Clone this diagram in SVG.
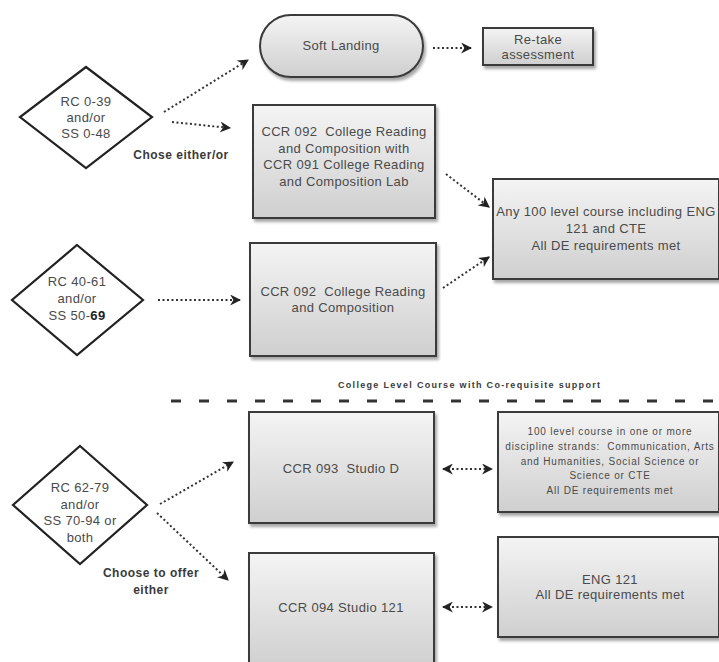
<svg xmlns="http://www.w3.org/2000/svg" width="719" height="662" viewBox="0 0 719 662">
<defs>
<linearGradient id="g" x1="0" y1="0" x2="0" y2="1">
<stop offset="0" stop-color="#f4f4f4"/>
<stop offset="1" stop-color="#cfcfcf"/>
</linearGradient>
<filter id="sh" x="-10%" y="-10%" width="130%" height="130%">
<feGaussianBlur in="SourceAlpha" stdDeviation="1.5"/>
<feOffset dx="2" dy="3" result="b"/>
<feComponentTransfer><feFuncA type="linear" slope="0.35"/></feComponentTransfer>
<feMerge><feMergeNode/><feMergeNode in="SourceGraphic"/></feMerge>
</filter>
<marker id="ah" viewBox="0 0 10 10" refX="9" refY="5" markerWidth="5.5" markerHeight="5.5" orient="auto-start-reverse" markerUnits="strokeWidth">
<path d="M0,0 L10,5 L0,10 L3,5 Z" fill="#222"/>
</marker>
</defs>
<style>
.box{fill:url(#g);stroke:#3a3a3a;stroke-width:2;filter:url(#sh)}
.dia{fill:#fff;stroke:#222;stroke-width:2.2}
.t{font-family:"Liberation Sans",Arial,sans-serif;font-size:13px;letter-spacing:0.35px;fill:#4a4a4a;text-anchor:middle}
.s{font-size:10px;letter-spacing:0.8px}
.b{font-family:"Liberation Sans",Arial,sans-serif;font-weight:bold;font-size:12px;letter-spacing:0.5px;fill:#3a3a3a;text-anchor:middle}
.c{fill:none;stroke:#333;stroke-width:2;stroke-dasharray:2 2.5;marker-end:url(#ah)}
.c2{marker-start:url(#ah)}
</style>
<rect width="719" height="662" fill="#fff"/>

<g id="n_d1">
<polygon class="dia" points="86,67 152,117 86,168 20,117"/>
<text class="t" x="86" y="106">RC 0-39</text>
<text class="t" x="86" y="122">and/or</text>
<text class="t" x="86" y="138">SS 0-48</text>
</g>
<g id="n_soft">
<rect class="box" x="260" y="15" width="163" height="62" rx="31"/>
<text class="t" x="341" y="50">Soft Landing</text>
</g>
<g id="n_retake">
<rect class="box" x="483" y="28" width="110" height="37"/>
<text class="t" x="538" y="44">Re-take</text>
<text class="t" x="538" y="59">assessment</text>
</g>
<g id="n_ccr092a">
<rect class="box" x="253" y="105" width="182" height="113"/>
<text class="t" x="344" y="136" xml:space="preserve">CCR 092  College Reading</text>
<text class="t" x="344" y="153">and Composition with</text>
<text class="t" x="344" y="169">CCR 091 College Reading</text>
<text class="t" x="344" y="186">and Composition Lab</text>
</g>
<g id="n_any">
<rect class="box" x="493" y="179" width="226" height="100"/>
<text class="t" x="606" y="216">Any 100 level course including ENG</text>
<text class="t" x="606" y="233">121 and CTE</text>
<text class="t" x="606" y="250">All DE requirements met</text>
</g>
<g id="n_d2">
<polygon class="dia" points="77,245 143,300 77,355 12,300"/>
<text class="t" x="77" y="286">RC 40-61</text>
<text class="t" x="77" y="303">and/or</text>
<text class="t" x="77" y="320">SS 50-<tspan font-weight="bold" fill="#222">69</tspan></text>
</g>
<g id="n_ccr092b">
<rect class="box" x="250" y="243" width="186" height="113"/>
<text class="t" x="343" y="296" xml:space="preserve">CCR 092  College Reading</text>
<text class="t" x="343" y="312">and Composition</text>
</g>

<g id="n_divider">
<text class="b" x="469" y="388" style="font-size:9px;letter-spacing:0" textLength="262">College Level Course with Co-requisite support</text>
<line x1="171" y1="401" x2="719" y2="401" stroke="#333" stroke-width="3" stroke-dasharray="10 18"/>
</g>

<g id="n_d3">
<polygon class="dia" points="80,446 147,505 80,564 13,505"/>
<text class="t" x="80" y="492">RC 62-79</text>
<text class="t" x="80" y="509">and/or</text>
<text class="t" x="80" y="525">SS 70-94 or</text>
<text class="t" x="80" y="542">both</text>
</g>
<g id="n_ccr093">
<rect class="box" x="249" y="412" width="185" height="111"/>
<text class="t" x="341" y="473" xml:space="preserve">CCR 093  Studio D</text>
</g>
<g id="n_100">
<rect class="box" x="498" y="412" width="221" height="100"/>
<text class="t s" x="610" y="435">100 level course in one or more</text>
<text class="t s" x="610" y="450" xml:space="preserve">discipline strands:  Communication, Arts</text>
<text class="t s" x="610" y="465">and Humanities, Social Science or</text>
<text class="t s" x="610" y="479">Science or CTE</text>
<text class="t s" x="610" y="494">All DE requirements met</text>
</g>
<g id="n_ccr094">
<rect class="box" x="249" y="553" width="185" height="115"/>
<text class="t" x="341" y="612">CCR 094 Studio 121</text>
</g>
<g id="n_eng">
<rect class="box" x="498" y="537" width="221" height="100"/>
<text class="t" x="610" y="584">ENG 121</text>
<text class="t" x="610" y="599">All DE requirements met</text>
</g>

<g id="labels">
<text class="b" x="181" y="159">Chose either/or</text>
<text class="b" x="151" y="577">Choose to offer</text>
<text class="b" x="151" y="594">either</text>
</g>

<g id="connectors">
<line class="c" x1="164" y1="112" x2="248" y2="60"/>
<line class="c" x1="172" y1="122" x2="230" y2="128"/>
<line class="c" x1="433" y1="48" x2="471" y2="48"/>
<line class="c" x1="446" y1="174" x2="489" y2="207"/>
<line class="c" x1="443" y1="288" x2="489" y2="257"/>
<line class="c" x1="158" y1="300" x2="240" y2="300"/>
<line class="c" x1="160" y1="504" x2="233" y2="462"/>
<line class="c" x1="157" y1="513" x2="228" y2="580"/>
<line class="c c2" x1="443" y1="469" x2="492" y2="469"/>
<line class="c c2" x1="443" y1="607" x2="492" y2="607"/>
</g>
</svg>
